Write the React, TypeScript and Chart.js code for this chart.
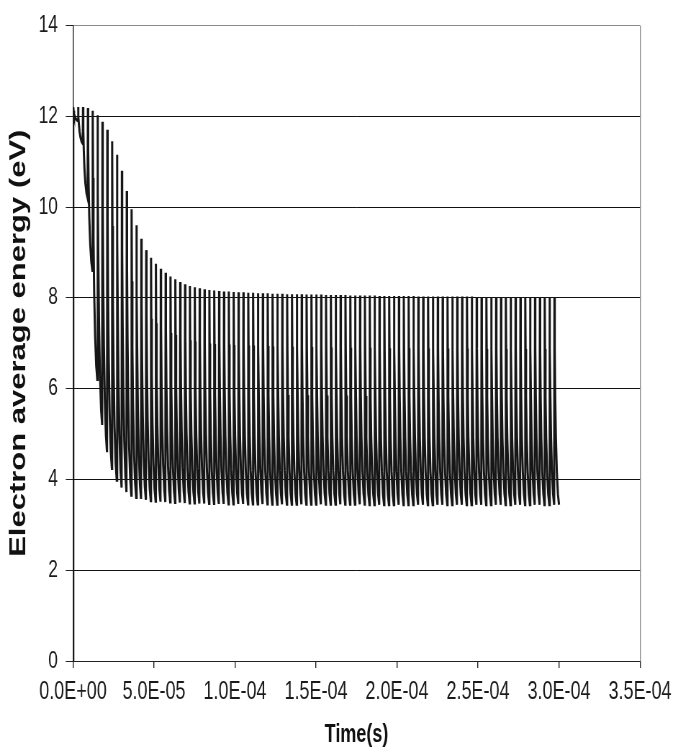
import { useEffect, useRef } from 'react';
import { Chart, registerables } from 'chart.js';

Chart.register(...registerables);

// ---- data ----
const X_TICK_LABELS = ['0.0E+00', '5.0E-05', '1.0E-04', '1.5E-04', '2.0E-04', '2.5E-04', '3.0E-04', '3.5E-04'];
const Y_TICK_VALUES = [0, 2, 4, 6, 8, 10, 12, 14];

// oscillation period (s) of the discharge
const CYCLE_PERIOD = 3e-6;

// peak value of each cycle (eV)
const CYCLE_PEAKS = [
  12.2, 12.2, 12.2, 12.18, 12.12, 12.02, 11.88, 11.7, 11.45, 11.15,
  10.8, 10.35, 9.95, 9.6, 9.3, 9.05, 8.88, 8.75, 8.64, 8.55,
  8.47, 8.41, 8.35, 8.3, 8.26, 8.23, 8.21, 8.19, 8.17, 8.16,
  8.15, 8.14, 8.14, 8.13, 8.12, 8.12, 8.11, 8.11, 8.1, 8.1,
  8.1, 8.09, 8.09, 8.09, 8.08, 8.08, 8.08, 8.08, 8.07, 8.07,
  8.07, 8.07, 8.06, 8.06, 8.06, 8.06, 8.06, 8.05, 8.05, 8.05,
  8.05, 8.05, 8.05, 8.04, 8.04, 8.04, 8.04, 8.04, 8.04, 8.04,
  8.04, 8.03, 8.03, 8.03, 8.03, 8.03, 8.03, 8.03, 8.03, 8.03,
  8.03, 8.03, 8.03, 8.02, 8.02, 8.02, 8.02, 8.02, 8.02, 8.02,
  8.02, 8.02, 8.02, 8.02, 8.02, 8.02, 8.02, 8.02, 8.02, 8.02,
];

// trough value reached at the end of each cycle (eV)
const CYCLE_TROUGHS = [
  11.9, 11.4, 10.2, 8.6, 6.2, 5.2, 4.6, 4.24, 3.98, 3.82,
  3.72, 3.65, 3.6, 3.57, 3.55, 3.53, 3.52, 3.51, 3.5, 3.5,
  3.49, 3.49, 3.48, 3.48, 3.48, 3.47, 3.47, 3.47, 3.47, 3.46,
  3.46, 3.46, 3.46, 3.46, 3.46, 3.46, 3.46, 3.46, 3.46, 3.46,
  3.45, 3.45, 3.45, 3.45, 3.45, 3.45, 3.45, 3.45, 3.45, 3.45,
  3.45, 3.45, 3.45, 3.45, 3.45, 3.45, 3.45, 3.45, 3.45, 3.45,
  3.44, 3.44, 3.44, 3.44, 3.44, 3.44, 3.44, 3.44, 3.44, 3.44,
  3.44, 3.44, 3.44, 3.44, 3.44, 3.44, 3.44, 3.44, 3.44, 3.44,
  3.44, 3.44, 3.44, 3.44, 3.44, 3.44, 3.44, 3.44, 3.44, 3.44,
  3.44, 3.44, 3.44, 3.44, 3.44, 3.44, 3.44, 3.44, 3.44, 3.44,
];

// waveform of one cycle: fast rise then decay (fraction of period, fraction of swing)
const SHAPE_TIME = [0.06, 0.12, 0.22, 0.36, 0.55, 0.78, 1.0];
const SHAPE_LEVEL = [1, 0.75, 0.52, 0.32, 0.16, 0.05, 0];

const START_POINT = { x: 0, y: 0 };

function buildPoints() {
  const pts: { x: number; y: number }[] = [START_POINT];
  for (let i = 0; i < CYCLE_PEAKS.length; i++) {
    const t0 = i * CYCLE_PERIOD;
    const pk = CYCLE_PEAKS[i];
    const tr = CYCLE_TROUGHS[i];
    for (let k = 0; k < SHAPE_TIME.length; k++) {
      pts.push({ x: t0 + SHAPE_TIME[k] * CYCLE_PERIOD, y: tr + SHAPE_LEVEL[k] * (pk - tr) });
    }
  }
  return pts;
}

// ---- drawing ----
const SX = 0.72; // horizontal squeeze of the reference picture
const DISPLAY_W = 678;
const DISPLAY_H = 752;
const LOGICAL_W = Math.round(DISPLAY_W / SX);
const FONT = "'Liberation Sans', Arial, sans-serif";

export default function App() {
  const ref = useRef<HTMLCanvasElement | null>(null);

  useEffect(() => {
    const canvas = ref.current;
    if (!canvas) return;
    const chart = new Chart(canvas, {
      type: 'line',
      data: {
        datasets: [
          {
            data: buildPoints(),
            borderColor: '#161616',
            borderWidth: 3,
            pointRadius: 0,
            tension: 0,
            fill: false,
          },
        ],
      },
      options: {
        animation: false,
        responsive: false,
        devicePixelRatio: 1,
        normalized: true,
        layout: { padding: { left: 0, right: 46, top: 24, bottom: 0 } },
        plugins: { legend: { display: false }, tooltip: { enabled: false } },
        scales: {
          x: {
            type: 'linear',
            min: 0,
            max: 3.5e-4,
            ticks: {
              stepSize: 5e-5,
              color: '#1a1a1a',
              padding: 9,
              maxRotation: 0,
              font: { family: FONT, size: 25 },
              callback: (_v: any, i: number) => X_TICK_LABELS[i],
            },
            grid: {
              drawOnChartArea: true,
              color: (c: any) => (c.index === X_TICK_LABELS.length - 1 ? '#8a8a8a' : 'rgba(0,0,0,0)'),
              tickColor: '#222',
              tickLength: 7,
              lineWidth: 1.4,
            },
            border: { color: '#222', width: 1 },
            title: {
              display: true,
              text: 'Time(s)',
              color: '#111',
              font: { family: FONT, size: 25, weight: 'bold' },
              padding: { top: 0, bottom: 2 },
            },
            afterFit: (s: any) => {
              s.height = 91;
            },
          },
          y: {
            min: 0,
            max: 14,
            afterBuildTicks: (s: any) => {
              s.ticks = Y_TICK_VALUES.map((v) => ({ value: v }));
            },
            ticks: {
              color: '#1a1a1a',
              padding: 11,
              font: { family: FONT, size: 24 },
            },
            grid: {
              color: (c: any) => (c.tick && c.tick.value === 14 ? '#8a8a8a' : '#111'),
              tickColor: '#222',
              tickLength: 10,
              lineWidth: 1,
            },
            border: { color: '#222', width: 1.4 },
            title: {
              display: true,
              text: 'Electron average energy (eV)',
              color: '#111',
              font: { family: FONT, size: 31, weight: 'bold' },
              padding: { top: 8, bottom: 0 },
            },
            afterFit: (s: any) => {
              s.width = 101.4;
            },
          },
        },
      },
    });
    return () => chart.destroy();
  }, []);

  return (
    <div style={{ position: 'fixed', left: 0, top: 0, width: DISPLAY_W, height: DISPLAY_H, background: '#fff' }}>
      <canvas
        ref={ref}
        width={LOGICAL_W}
        height={DISPLAY_H}
        style={{ width: DISPLAY_W + 'px', height: DISPLAY_H + 'px', display: 'block' }}
      />
    </div>
  );
}
